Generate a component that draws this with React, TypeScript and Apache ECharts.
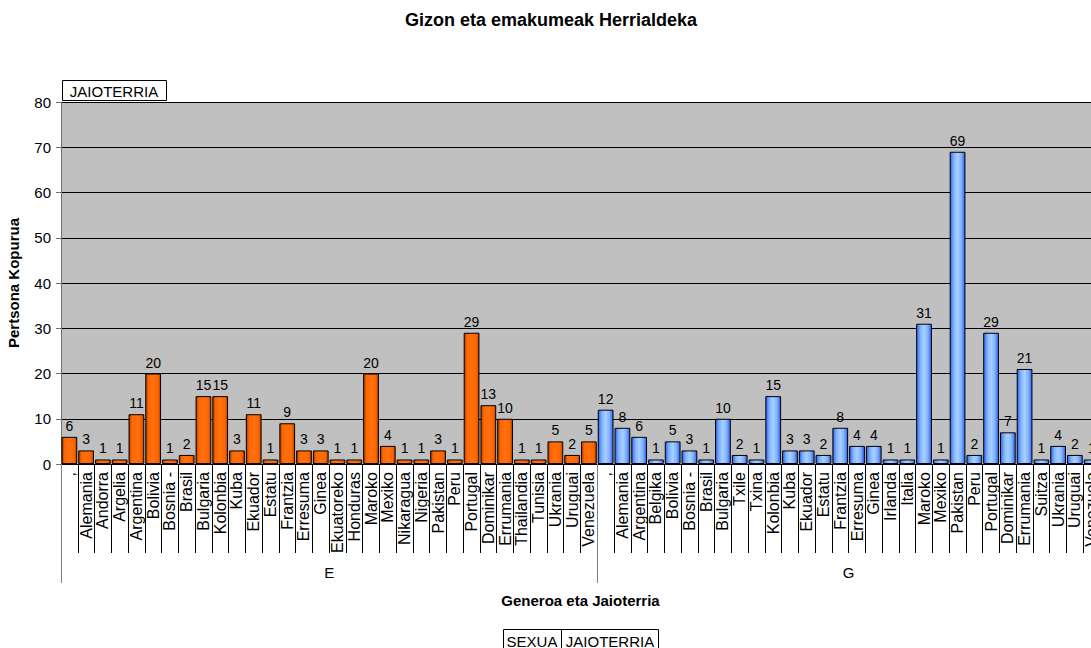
import React, { useEffect, useRef } from "react";
import * as echarts from "echarts";

const eCategories = [
  ",", "Alemania", "Andorra", "Argelia", "Argentina", "Bolivia", "Bosnia -", "Brasil",
  "Bulgaria", "Kolonbia", "Kuba", "Ekuador", "Estatu", "Frantzia", "Erresuma", "Ginea",
  "Ekuatoreko", "Honduras", "Maroko", "Mexiko", "Nikaragua", "Nigeria", "Pakistan", "Peru",
  "Portugal", "Dominikar", "Errumania", "Thailandia", "Tunisia", "Ukrania", "Uruguai", "Venezuela",
];
const eValues = [
  6, 3, 1, 1, 11, 20, 1, 2, 15, 15, 3, 11, 1, 9, 3, 3,
  1, 1, 20, 4, 1, 1, 3, 1, 29, 13, 10, 1, 1, 5, 2, 5,
];
const gCategories = [
  ",", "Alemania", "Argentina", "Belgika", "Bolivia", "Bosnia -", "Brasil", "Bulgaria",
  "Txile", "Txina", "Kolonbia", "Kuba", "Ekuador", "Estatu", "Frantzia", "Erresuma",
  "Ginea", "Irlanda", "Italia", "Maroko", "Mexiko", "Pakistan", "Peru", "Portugal",
  "Dominikar", "Errumania", "Suitza", "Ukrania", "Uruguai", "Venezuela",
];
const gValues = [
  12, 8, 6, 1, 5, 3, 1, 10, 2, 1, 15, 3, 3, 2, 8, 4,
  4, 1, 1, 31, 1, 69, 2, 29, 7, 21, 1, 4, 2, 1,
];
const groups = ["E", "G"];
const yTicks = { min: 0, max: 80, interval: 10 };

const FONT = "'Liberation Sans', Arial, sans-serif";

export default function App() {
  const ref = useRef<HTMLDivElement>(null);

  useEffect(() => {
    if (!ref.current) return;
    const chart = echarts.init(ref.current, null, { renderer: "svg" });

    const categories = [...eCategories, ...gCategories];
    const nE = eCategories.length;
    const nAll = categories.length;
    const eData = categories.map((_, i) => (i < nE ? eValues[i] : "-"));
    const gData = categories.map((_, i) => (i >= nE ? gValues[i - nE] : "-"));
    const groupBounds = [0, nE, nAll];
    const groupCenters = [nE / 2, nE + (nAll - nE) / 2];

    const orange = new echarts.graphic.LinearGradient(0, 0, 1, 0, [
      { offset: 0, color: "#a33800" },
      { offset: 0.18, color: "#ff6600" },
      { offset: 0.5, color: "#ff7010" },
      { offset: 0.82, color: "#ff6600" },
      { offset: 1, color: "#b84000" },
    ]);
    const blue = new echarts.graphic.LinearGradient(0, 0, 1, 0, [
      { offset: 0, color: "#3060f0" },
      { offset: 0.25, color: "#80b4ff" },
      { offset: 0.5, color: "#a8d0ff" },
      { offset: 0.75, color: "#80b4ff" },
      { offset: 1, color: "#3060f0" },
    ]);

    const grid = { left: 61, top: 102, width: 1039, height: 362, containLabel: false, outerBoundsMode: "none" };
    const centered = { align: "center", verticalAlign: "middle", textAlign: "center", textVerticalAlign: "middle" };

    chart.setOption({
      animation: false,
      textStyle: { fontFamily: FONT },
      grid: [
        { ...grid, show: true, backgroundColor: "#c0c0c0", borderWidth: 0 },
        { ...grid, show: false },
      ],
      xAxis: [
        {
          type: "category",
          gridIndex: 0,
          data: categories,
          axisLine: { show: true, lineStyle: { color: "#000", width: 1 } },
          axisTick: { show: true, length: 89, interval: 0, lineStyle: { color: "#000" } },
          axisLabel: {
            interval: 0,
            rotate: 90,
            margin: 8,
            fontSize: 16,
            color: "#000",
            fontFamily: FONT,
          },
          splitLine: { show: false },
        },
        {
          type: "value",
          gridIndex: 1,
          min: 0,
          max: nAll,
          axisLine: { show: false },
          axisTick: {
            show: true,
            length: 119,
            customValues: groupBounds,
            lineStyle: { color: "#808080" },
          },
          axisLabel: {
            show: true,
            customValues: groupCenters,
            formatter: (v: number) => (v < nE ? groups[0] : groups[1]),
            margin: 101,
            fontSize: 15,
            color: "#000",
            fontFamily: FONT,
          },
          splitLine: { show: false },
          name: "Generoa eta Jaioterria",
          nameLocation: "middle",
          nameGap: 129,
          nameTextStyle: { fontWeight: "bold", fontSize: 15, color: "#000", fontFamily: FONT },
        },
      ],
      yAxis: [
        {
          type: "value",
          gridIndex: 0,
          min: yTicks.min,
          max: yTicks.max,
          interval: yTicks.interval,
          axisLine: { show: true, lineStyle: { color: "#707070" } },
          axisTick: { show: true, length: 5, lineStyle: { color: "#707070" } },
          axisLabel: { margin: 10, fontSize: 15, color: "#000", fontFamily: FONT },
          splitLine: { show: true, lineStyle: { color: "#000", width: 1 } },
          name: "Pertsona Kopurua",
          nameLocation: "middle",
          nameGap: 40,
          nameTextStyle: { fontWeight: "bold", fontSize: 15, color: "#000", fontFamily: FONT },
        },
        {
          type: "value",
          gridIndex: 1,
          show: false,
          min: 0,
          max: 1,
        },
      ],
      series: [
        {
          type: "bar",
          name: "E",
          xAxisIndex: 0,
          yAxisIndex: 0,
          data: eData,
          barGap: "-100%",
          barCategoryGap: "6%",
          itemStyle: { color: orange, borderColor: "#000", borderWidth: 1 },
          label: { show: true, position: "top", distance: 4, fontSize: 14, color: "#000", fontFamily: FONT },
        },
        {
          type: "bar",
          name: "G",
          xAxisIndex: 0,
          yAxisIndex: 0,
          data: gData,
          barGap: "-100%",
          barCategoryGap: "6%",
          itemStyle: { color: blue, borderColor: "#000", borderWidth: 1 },
          label: { show: true, position: "top", distance: 4, fontSize: 14, color: "#000", fontFamily: FONT },
        },
      ],
      graphic: [
        {
          type: "text",
          x: 551,
          y: 20,
          style: { text: "Gizon eta emakumeak Herrialdeka", font: `bold 18px ${FONT}`, fill: "#000", ...centered },
        },
        {
          type: "rect",
          shape: { x: 62.5, y: 80.5, width: 104, height: 20 },
          style: { fill: "#fff", stroke: "#000", lineWidth: 1 },
        },
        {
          type: "text",
          x: 114,
          y: 91,
          style: { text: "JAIOTERRIA", font: `15px ${FONT}`, fill: "#000", ...centered },
        },
        {
          type: "rect",
          shape: { x: 503.5, y: 629.5, width: 155, height: 24 },
          style: { fill: "#fff", stroke: "#000", lineWidth: 1 },
        },
        {
          type: "line",
          shape: { x1: 561.5, y1: 629.5, x2: 561.5, y2: 653 },
          style: { stroke: "#000", lineWidth: 1 },
        },
        {
          type: "text",
          x: 532,
          y: 641,
          style: { text: "SEXUA", font: `15px ${FONT}`, fill: "#000", ...centered },
        },
        {
          type: "text",
          x: 610,
          y: 641,
          style: { text: "JAIOTERRIA", font: `15px ${FONT}`, fill: "#000", ...centered },
        },
      ],
    });

    return () => chart.dispose();
  }, []);

  return (
    <div
      ref={ref}
      style={{ position: "absolute", left: 0, top: 0, width: 1091, height: 648, background: "#fff" }}
    />
  );
}
